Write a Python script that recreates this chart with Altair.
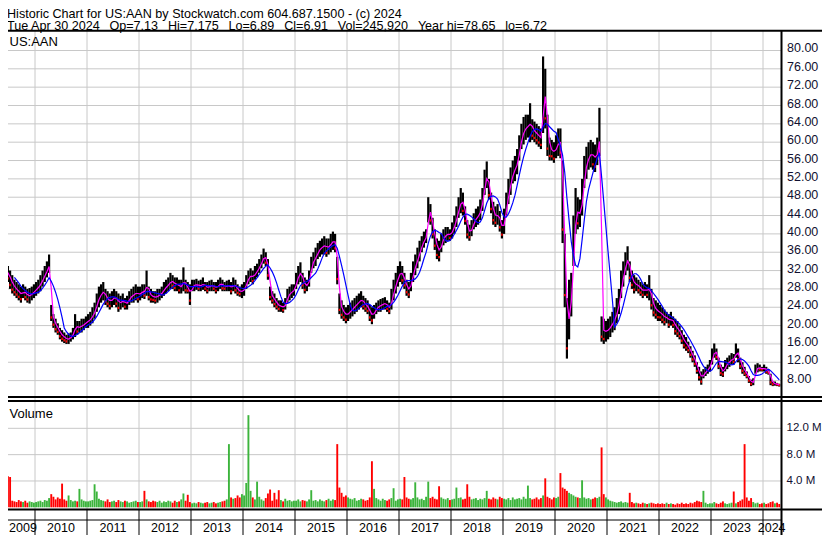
import altair as alt
import pandas as pd

# ---------------- price data: (low, high) per half-month ----------------
p2009 = [(29.5,34.5),(29.0,34.0),(30.0,33.5),(29.5,33.0),(28.0,32.0),(27.0,31.0),(26.5,30.0),(26.0,29.5),
         (25.5,29.0),(25.0,28.5),(26.0,29.0),(25.5,28.5),(25.0,28.0),(24.8,28.2),(25.5,28.5),(26.0,29.0)]
p2010 = [(26.5,29.5),(27.0,30.0),(27.5,31.0),(28.5,32.0),(29.5,33.0),(30.5,34.0),(31.5,35.5),(21.0,24.5),
         (19.5,22.5),(18.5,21.5),(18.0,20.5),(17.0,19.5),(16.5,19.0),(16.2,18.5),(16.0,18.0),(16.0,18.3),
         (16.5,18.5),(17.0,19.5),(17.5,22.5),(18.0,21.0),(18.5,21.0),(18.5,21.5),(19.0,21.5),(19.5,22.0)]
p2011 = [(19.5,22.5),(20.0,23.0),(20.5,24.0),(21.5,25.0),(23.0,27.0),(24.0,28.5),(25.0,29.0),(25.5,29.5),
         (24.5,28.0),(24.0,27.5),(23.5,27.0),(24.0,27.5),(24.5,28.0),(24.0,27.5),(23.0,27.0),(23.5,26.5),
         (24.0,27.0),(23.5,26.0),(23.5,26.5),(24.5,27.5),(25.0,28.0),(25.0,28.5),(25.5,29.0),(25.0,28.5)]
p2012 = [(25.5,28.5),(26.0,29.0),(25.8,29.0),(26.5,32.0),(25.5,28.5),(25.0,28.0),(25.0,27.5),(24.8,27.5),
         (25.0,28.0),(25.5,28.0),(26.0,28.5),(26.5,29.5),(27.0,30.0),(27.5,30.5),(28.0,31.5),(28.0,31.0),
         (27.5,30.5),(27.5,30.5),(27.0,30.0),(27.0,30.0),(27.5,32.7),(27.0,30.0),(27.0,29.5),(24.5,29.0)]
p2013 = [(27.5,30.0),(27.5,30.0),(27.8,30.2),(27.5,29.8),(27.5,30.0),(27.8,30.5),(27.5,29.5),(27.0,29.5),
         (27.5,29.8),(27.5,30.0),(27.5,29.5),(27.0,29.5),(27.5,30.0),(28.0,30.5),(27.5,30.0),(27.5,29.5),
         (27.5,29.8),(27.5,30.0),(26.8,29.5),(27.5,30.5),(27.0,30.0),(26.5,29.0),(26.3,28.5),(26.0,29.0)]
p2014 = [(26.5,29.5),(28.0,31.0),(29.0,32.0),(29.5,32.5),(29.0,32.0),(30.0,33.0),(30.5,33.5),(31.5,34.5),
         (32.5,35.5),(33.5,36.8),(33.0,36.0),(30.0,34.5),(25.5,28.5),(24.8,27.5),(24.0,27.0),(23.5,26.0),
         (23.0,25.5),(23.0,25.5),(22.8,25.0),(23.5,26.0),(25.0,28.0),(25.5,28.5),(26.0,29.0),(26.5,29.0)]
p2015 = [(28.0,31.5),(29.0,33.0),(29.5,33.8),(28.0,31.5),(27.0,30.5),(27.5,30.0),(28.5,32.0),(31.5,35.0),
         (32.5,36.0),(33.0,37.0),(34.5,38.0),(35.0,38.5),(35.5,39.0),(35.5,39.5),(35.0,39.0),(35.5,39.0),
         (36.0,40.0),(36.5,40.5),(36.0,40.0),(29.0,35.0),(22.5,27.0),(21.5,25.5),(21.0,24.5),(20.5,24.0)]
p2016 = [(21.0,24.5),(21.5,25.0),(22.0,25.5),(22.5,26.0),(23.0,26.5),(23.5,27.0),(24.0,27.5),(23.5,26.5),
         (23.0,26.0),(22.5,25.5),(21.0,24.5),(20.3,24.0),(21.5,24.5),(22.5,25.0),(23.0,25.5),(23.0,25.8),
         (23.5,26.0),(23.5,26.2),(23.0,25.5),(22.5,25.0),(23.5,28.0),(25.5,30.0),(27.0,31.5),(28.5,33.0)]
p2017 = [(29.5,34.0),(29.0,33.0),(28.0,31.5),(26.5,30.0),(26.0,29.5),(27.5,31.5),(29.5,34.0),(31.0,35.5),
         (32.5,37.0),(34.0,38.5),(36.0,39.5),(37.0,40.5),(38.0,41.0),(42.5,48.0),(42.0,46.5),(39.0,43.5),
         (36.5,41.0),(34.5,39.0),(34.0,38.5),(36.0,40.0),(37.5,41.0),(38.0,41.5),(38.5,41.5),(38.5,41.0)]
p2018 = [(39.0,42.5),(40.0,44.0),(41.5,46.0),(43.5,48.0),(44.5,50.0),(44.0,49.0),(42.0,46.0),(39.0,43.0),
         (38.5,42.0),(39.5,43.0),(41.0,44.5),(41.5,45.5),(42.0,46.0),(43.0,47.5),(45.0,50.0),(48.5,54.0),
         (50.0,55.8),(47.5,52.0),(44.5,49.0),(42.0,47.0),(41.5,46.0),(42.0,46.5),(40.5,45.0),(39.0,43.0)]
p2019 = [(40.0,45.5),(44.0,49.0),(46.5,52.0),(48.5,54.5),(51.0,56.0),(51.5,57.0),(53.0,58.5),(56.0,61.5),
         (58.5,64.0),(59.5,65.5),(60.5,66.0),(61.0,66.0),(60.0,68.5),(60.5,65.0),(60.0,64.5),(59.5,64.0),
         (59.0,63.5),(58.5,63.0),(62.0,78.7),(63.0,76.0),(57.0,66.0),(56.0,61.0),(56.0,60.5),(55.5,60.0)]
p2020 = [(56.5,61.5),(57.0,63.0),(56.5,63.0),(38.0,56.0),(24.0,40.0),(12.8,26.0),(17.0,30.0),(22.0,31.5),
         (33.0,44.0),(40.0,50.0),(41.0,48.0),(41.5,47.5),(44.0,52.0),(50.0,57.0),(52.0,59.0),(54.0,60.0),
         (54.5,60.5),(54.0,60.0),(53.5,59.5),(55.0,61.0),(57.0,67.5),(16.5,22.0),(16.0,21.5),(16.5,21.0)]
p2021 = [(17.0,21.5),(17.5,22.0),(18.5,23.0),(19.0,24.0),(20.5,26.0),(22.5,28.0),(26.0,32.0),(28.5,34.0),
         (31.0,36.0),(32.0,37.3),(29.5,34.0),(28.0,32.0),(27.0,31.0),(27.5,30.5),(27.0,30.0),(26.5,29.5),
         (26.0,29.0),(26.5,29.5),(26.0,29.0),(25.5,31.0),(23.5,28.0),(22.0,26.0),(21.5,25.5),(21.0,25.0)]
p2022 = [(21.0,24.5),(20.5,24.0),(20.0,23.5),(20.5,23.0),(19.5,22.5),(20.0,23.0),(19.5,22.0),(18.0,21.5),
         (17.5,21.0),(17.0,20.0),(16.0,19.0),(15.0,18.0),(14.5,17.5),(14.0,16.5),(13.0,15.5),(12.0,14.5),
         (11.0,13.5),(9.5,12.0),(8.0,11.0),(7.1,10.0),(8.5,10.5),(9.0,11.0),(9.5,11.5),(10.0,12.5)]
p2023 = [(11.5,15.0),(13.0,16.1),(12.5,15.0),(10.5,13.0),(9.0,11.5),(8.8,11.0),(10.0,12.5),(10.5,13.0),
         (11.0,13.5),(11.5,14.0),(11.5,13.8),(13.0,16.1),(12.0,15.0),(10.5,13.0),(9.5,12.0),(9.0,11.0),
         (8.5,10.0),(7.5,9.0),(6.8,8.2),(7.0,8.5),(9.5,11.5),(9.8,11.8),(10.0,11.5),(10.0,11.0)]
p2024 = [(10.0,11.5),(9.5,11.0),(9.3,10.5),(7.0,9.5),(6.8,7.8),(6.9,7.8),(6.8,7.5),(6.7,7.3)]

# ---------------- volume (millions) per half-month ----------------
v2009 = [1.2,1.0,6.8,4.7,4.6,1.0,0.9,0.8,1.1,0.9,0.8,1.0,0.7,0.9,0.8,0.7]
v2010 = [0.8,0.9,1.0,0.8,1.1,1.0,1.4,2.0,1.6,1.2,1.5,1.3,3.6,1.2,1.0,1.8,1.1,0.9,1.0,0.9,2.8,1.2,1.0,0.9]
v2011 = [0.9,1.0,1.1,3.5,2.4,1.3,1.1,1.0,0.9,1.2,0.8,0.9,1.0,0.8,1.1,0.9,0.8,1.0,0.9,0.7,0.8,0.9,1.0,0.8]
v2012 = [0.8,0.9,2.5,1.2,0.9,0.8,1.0,0.9,0.8,1.0,0.7,0.9,0.8,1.0,0.9,0.7,1.0,0.8,0.9,1.2,2.1,1.0,1.9,0.8]
v2013 = [0.6,0.7,0.6,0.8,0.7,0.6,0.7,0.8,0.6,0.7,0.8,0.6,0.7,0.8,0.9,1.0,1.2,9.6,1.5,1.3,1.4,1.8,1.5,2.0]
v2014 = [1.8,3.7,14.0,2.5,1.5,1.2,3.9,1.6,1.2,1.0,1.4,2.1,2.7,1.0,2.2,1.2,2.6,1.1,0.9,1.3,1.0,1.1,0.9,1.0]
v2015 = [1.0,1.2,0.9,1.1,1.0,0.9,1.2,2.6,1.0,1.1,0.9,1.2,1.0,0.9,1.1,1.3,1.0,1.2,1.1,9.6,3.0,2.2,1.6,1.8]
v2016 = [1.5,1.3,1.2,1.4,1.0,1.1,1.3,1.2,1.0,1.1,1.5,7.0,2.8,1.4,1.2,1.0,1.3,1.1,1.0,1.2,1.4,2.9,1.0,1.2]
v2017 = [1.3,1.2,4.6,1.5,1.3,1.2,1.4,3.8,1.5,1.2,1.3,1.1,1.6,3.9,1.4,1.6,1.3,1.2,3.2,1.5,1.3,1.2,1.4,1.1]
v2018 = [1.2,1.3,3.0,1.4,1.5,1.2,1.3,3.5,1.6,1.2,1.3,1.4,1.1,1.3,1.2,1.4,2.5,1.3,1.2,1.5,1.3,1.2,1.6,1.4]
v2019 = [1.3,1.2,1.4,1.1,1.5,1.2,1.3,1.4,1.2,1.6,1.3,3.3,1.4,1.2,1.3,1.5,1.2,1.4,1.8,4.4,1.6,1.4,1.2,1.5]
v2020 = [1.4,1.6,5.2,3.0,2.8,2.5,2.2,2.0,1.8,1.6,1.5,1.4,4.1,1.5,1.3,1.4,1.2,1.3,1.5,1.4,1.6,9.1,2.0,1.5]
v2021 = [1.2,1.0,0.9,0.8,0.7,0.8,0.9,0.7,0.8,0.7,2.2,0.8,0.6,0.7,0.6,0.5,0.7,0.6,0.5,0.6,0.7,0.6,0.5,0.6]
v2022 = [0.5,0.6,0.5,0.7,0.5,0.6,0.5,0.4,0.6,0.5,0.7,0.5,0.6,0.5,0.7,0.6,0.8,1.0,0.9,0.8,2.5,0.7,0.5,0.6]
v2023 = [0.6,0.8,0.6,0.5,0.7,0.9,0.6,0.5,0.6,0.7,2.4,0.6,0.8,1.0,1.2,9.6,1.5,1.0,1.4,0.8,0.6,0.7,0.5,0.6]
v2024 = [0.7,0.5,0.6,0.8,0.9,0.6,0.7,0.5]

# ---------------- axis labels ----------------
price_ticks = [8, 12, 16, 20, 24, 28, 32, 36, 40, 44, 48, 52, 56, 60, 64, 68, 72, 76, 80]
vol_ticks = [4, 8, 12]
vol_tick_labels = ["4.0 M", "8.0 M", "12.0 M"]
year_ticks = list(range(2010, 2025))
year_labels = [str(y) for y in range(2009, 2025)]

GAP = "\u00a0\u2002"
header1 = "Historic Chart for US:AAN by Stockwatch.com 604.687.1500 - (c) 2024"
header2 = GAP.join(["Tue Apr 30 2024", "Op=7.13", "Hi=7.175", "Lo=6.89", "Cl=6.91",
                    "Vol=245,920", "Year hi=78.65", "lo=6.72"])

# ---------------- build table ----------------
series = [(2009, p2009, v2009), (2010, p2010, v2010), (2011, p2011, v2011), (2012, p2012, v2012),
          (2013, p2013, v2013), (2014, p2014, v2014), (2015, p2015, v2015), (2016, p2016, v2016),
          (2017, p2017, v2017), (2018, p2018, v2018), (2019, p2019, v2019), (2020, p2020, v2020),
          (2021, p2021, v2021), (2022, p2022, v2022), (2023, p2023, v2023), (2024, p2024, v2024)]
rows = []
for yr, plist, vlist in series:
    assert len(plist) == len(vlist), yr
    m0 = 4 if yr == 2009 else 0
    for k, ((lo, hi), v) in enumerate(zip(plist, vlist)):
        month = m0 + k // 2
        t = yr + (month + (k % 2) * 0.5 + 0.25) / 12.0
        rows.append({"t": t, "lo": lo, "hi": hi, "vol": v})
df = pd.DataFrame(rows)
df["mid"] = (df["lo"] + df["hi"]) / 2
df["zero"] = 0.0

W, H = 814, 527
X0 = 2010 + (8 - 35) / 52.0
X1 = 2010 + (W + 8 - 35) / 52.0
last_t = df["t"].max() + 1 / 48
label_pos = [X0 + 15 / 52.0] + [y + 0.5 for y in range(2010, 2024)] + [(2024 + last_t) / 2]

# ---------------- scales (chart coords = reference pixels - 8) ----------------
xs = alt.Scale(domain=[X0, X1], nice=False, zero=False)
ps = alt.Scale(domain=[3.77, 84.25], range=[392, 23], nice=False, zero=False)
vs = alt.Scale(domain=[0, 16], range=[499.3, 394.0], nice=False, zero=False)

FONT = "Liberation Sans"
GRID = "#c8c8c8"
X = alt.X("t:Q", scale=xs, axis=None)
srt = [alt.SortField("t")]

base = alt.Chart(df)

hgrid = alt.Chart(pd.DataFrame({"p": price_ticks})).mark_rule(color=GRID, strokeWidth=1).encode(
    y=alt.Y("p:Q", scale=ps, axis=None), x=alt.value(-8), x2=alt.value(773))
vgrid = alt.Chart(pd.DataFrame({"yr": year_ticks})).mark_rule(color=GRID, strokeWidth=1).encode(
    x=alt.X("yr:Q", scale=xs, axis=None), y=alt.value(23), y2=alt.value(501))
vlgrid = alt.Chart(pd.DataFrame({"v": vol_ticks})).mark_rule(color=GRID, strokeWidth=1).encode(
    y=alt.Y("v:Q", scale=vs, axis=None), x=alt.value(-8), x2=alt.value(773))

bars = base.mark_rule(color="black", strokeWidth=2.2).encode(
    x=X, y=alt.Y("lo:Q", scale=ps, axis=None), y2="hi:Q")

red = (base.transform_window(prev="lag(mid)", sort=srt)
       .transform_filter("datum.prev != null && datum.mid < datum.prev")
       .transform_calculate(c1="datum.lo + (datum.hi - datum.lo) * 0.15",
                            c2="datum.lo + (datum.hi - datum.lo) * 0.15 + 0.5")
       .mark_rule(color="#ff0000", strokeWidth=1.6)
       .encode(x=X, y=alt.Y("c1:Q", scale=ps, axis=None), y2="c2:Q"))

magenta = (base.transform_window(ma_s="mean(mid)", frame=[-1, 0], sort=srt)
           .mark_line(color="#ff00ff", strokeWidth=1.2)
           .encode(x=X, y=alt.Y("ma_s:Q", scale=ps, axis=None)))

blue = (base.transform_window(ma_l="mean(mid)", n_l="count()", frame=[-6, 0], sort=srt)
        .transform_filter("datum.n_l >= 7")
        .mark_line(color="#0000ff", strokeWidth=1.2)
        .encode(x=X, y=alt.Y("ma_l:Q", scale=ps, axis=None)))

volume = (base.transform_window(prev="lag(mid)", sort=srt)
          .transform_calculate(d="datum.prev == null || datum.mid >= datum.prev ? 'up' : 'down'")
          .mark_rule(strokeWidth=1.9)
          .encode(x=X, y=alt.Y("vol:Q", scale=vs, axis=None), y2="zero:Q",
                  color=alt.Color("d:N", scale=alt.Scale(domain=["up", "down"], range=["#3cb43c", "#ff0000"]),
                                  legend=None)))

frame_df = pd.DataFrame([
    {"x1": -8, "x2": 830, "y1": 22.8, "y2": 22.8, "w": 2},
    {"x1": -8, "x2": 830, "y1": 389.0, "y2": 389.0, "w": 2},
    {"x1": -8, "x2": 830, "y1": 393.0, "y2": 393.0, "w": 2},
    {"x1": -8, "x2": 830, "y1": 501.5, "y2": 501.5, "w": 2},
    {"x1": -8, "x2": 773, "y1": 512.0, "y2": 512.0, "w": 1},
    {"x1": 773.5, "x2": 773.5, "y1": 22, "y2": 540, "w": 2},
])
frame = alt.Chart(frame_df).mark_rule(color="black").encode(
    x=alt.X("x1:Q", scale=None), x2="x2:Q", y=alt.Y("y1:Q", scale=None), y2="y2:Q",
    size=alt.Size("w:Q", scale=None, legend=None))

sep = alt.Chart(pd.DataFrame({"yr": year_ticks})).mark_rule(color="black", strokeWidth=1).encode(
    x=alt.X("yr:Q", scale=xs, axis=None), y=alt.value(501), y2=alt.value(540))

head = alt.Chart(pd.DataFrame({"txt": [header1, header2], "yy": [10.4, 21.6]})).mark_text(
    align="left", baseline="alphabetic", font=FONT, fontSize=12.6, color="black").encode(
    text="txt:N", x=alt.value(-1), y=alt.Y("yy:Q", scale=None))

panel_txt = alt.Chart(pd.DataFrame({"txt": ["US:AAN", "Volume"], "yy": [38.0, 410.0]})).mark_text(
    align="left", baseline="alphabetic", font=FONT, fontSize=13, color="black").encode(
    text="txt:N", x=alt.value(1.5), y=alt.Y("yy:Q", scale=None))

plabels = alt.Chart(pd.DataFrame({"p": price_ticks, "lab": [f"{v:.2f}" for v in price_ticks]})).mark_text(
    align="left", baseline="middle", font=FONT, fontSize=12.5, color="#101030", dy=-2).encode(
    text="lab:N", x=alt.value(779), y=alt.Y("p:Q", scale=ps, axis=None))

vlabels = alt.Chart(pd.DataFrame({"v": vol_ticks, "lab": vol_tick_labels})).mark_text(
    align="left", baseline="middle", font=FONT, fontSize=11.5, color="#101030", dy=0).encode(
    text="lab:N", x=alt.value(778.5), y=alt.Y("v:Q", scale=vs, axis=None))

ylabels = alt.Chart(pd.DataFrame({"pos": label_pos, "lab": year_labels})).mark_text(
    align="center", baseline="alphabetic", font=FONT, fontSize=12.5, color="black").encode(
    text="lab:N", x=alt.X("pos:Q", scale=xs, axis=None), y=alt.value(523.5))

chart = (alt.layer(hgrid, vgrid, vlgrid, volume, bars, red, magenta, blue, frame, sep,
                   head, panel_txt, plabels, vlabels, ylabels)
         .resolve_scale(y="independent")
         .properties(width=W, height=H, padding=0, autosize=alt.AutoSizeParams(type="none"),
                     background="white")
         .configure_view(stroke=None))

chart.save("out.html", embed_options={"renderer": "svg", "actions": False})
